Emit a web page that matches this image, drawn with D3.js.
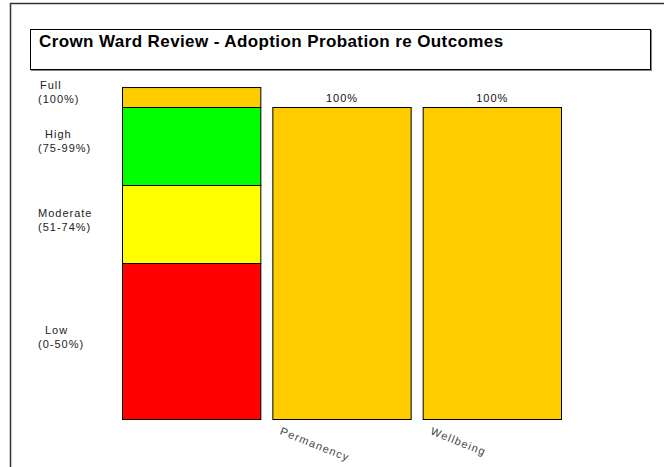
<!DOCTYPE html>
<html><head><meta charset="utf-8">
<script src="https://cdn.jsdelivr.net/npm/d3@7"></script>
<style>body{margin:0;background:#fff}svg{display:block}text{font-family:Arial,"Liberation Sans",sans-serif}</style>
</head><body><svg id="c" width="664" height="467"></svg>
<script>
const title = "Crown Ward Review - Adoption Probation re Outcomes";
const bandNames = ["Low", "Moderate", "High", "Full"];
const bandRanges = ["(0-50%)", "(51-74%)", "(75-99%)", "(100%)"];
const bandValues = [50, 25, 25, 6.4];
const bandColors = ["#ff0000", "#ffff00", "#00ff00", "#ffcc00"];
const categories = ["Permanency", "Wellbeing"];
const values = [100, 100];
const valueLabels = ["100%", "100%"];

const svg = d3.select("#c");
// outer frame
svg.append("path").attr("d","M10.5,467 V3.5 H664").attr("fill","none").attr("stroke","#333").attr("stroke-width",1.5);
// title box
svg.append("rect").attr("x",31).attr("y",30).attr("width",621).attr("height",41).attr("fill","#888");
svg.append("rect").attr("x",30.5).attr("y",29.5).attr("width",620).attr("height",40).attr("fill","#fff").attr("stroke","#000");
svg.append("text").attr("x",39).attr("y",47).attr("font-size",17).attr("letter-spacing","0.4px").attr("font-weight","bold").attr("fill","#000").text(title);

const x = d3.scaleBand().domain(["__scale__", ...categories]).range([117, 567]).paddingInner(0.0733).paddingOuter(0.0333);
const y = d3.scaleLinear().domain([0, 100]).range([419, 107]);

// scale bar
let cum = 0;
const segs = bandValues.map((v,i)=>{const s={y0:cum,y1:cum+v,c:bandColors[i],n:bandNames[i],r:bandRanges[i]};cum+=v;return s;});
svg.append("g").selectAll("rect").data(segs).join("rect")
  .attr("x", x("__scale__")+0.5).attr("width", x.bandwidth()-1)
  .attr("y", d=>y(d.y1)+0.5).attr("height", d=>y(d.y0)-y(d.y1))
  .attr("fill", d=>d.c).attr("stroke","#000").attr("stroke-width",1);

// band labels
const labelY = [336, 219, 140, 91];
const lg = svg.append("g").attr("font-size",11).attr("letter-spacing","1px").attr("fill","#222");
segs.forEach((d,i)=>{
  const ty = labelY[i];
  lg.append("text").attr("x", i===1?38:(i===3?40:45)).attr("y", ty-2).text(d.n);
  lg.append("text").attr("x", 38).attr("y", ty+12).text(d.r);
});

// data bars
svg.append("g").selectAll("rect").data(categories).join("rect")
  .attr("x", d=>x(d)+0.5).attr("width", x.bandwidth()-1)
  .attr("y", (d,i)=>y(values[i])+0.5).attr("height",(d,i)=>y(0)-y(values[i]))
  .attr("fill","#ffcc00").attr("stroke","#000").attr("stroke-width",1);

svg.append("g").selectAll("text").data(categories).join("text")
  .attr("x", d=>x(d)+x.bandwidth()/2).attr("y",(d,i)=>y(values[i])-5)
  .attr("text-anchor","middle").attr("font-size",11).attr("letter-spacing","1px").attr("fill","#111")
  .text((d,i)=>valueLabels[i]);

svg.append("g").selectAll("text").data(categories).join("text")
  .attr("transform", d=>`translate(${x(d)+7},${y(0)+15}) rotate(22)`)
  .attr("font-size",11).attr("letter-spacing","1.2px").attr("fill","#444").text(d=>d);
</script></body></html>
